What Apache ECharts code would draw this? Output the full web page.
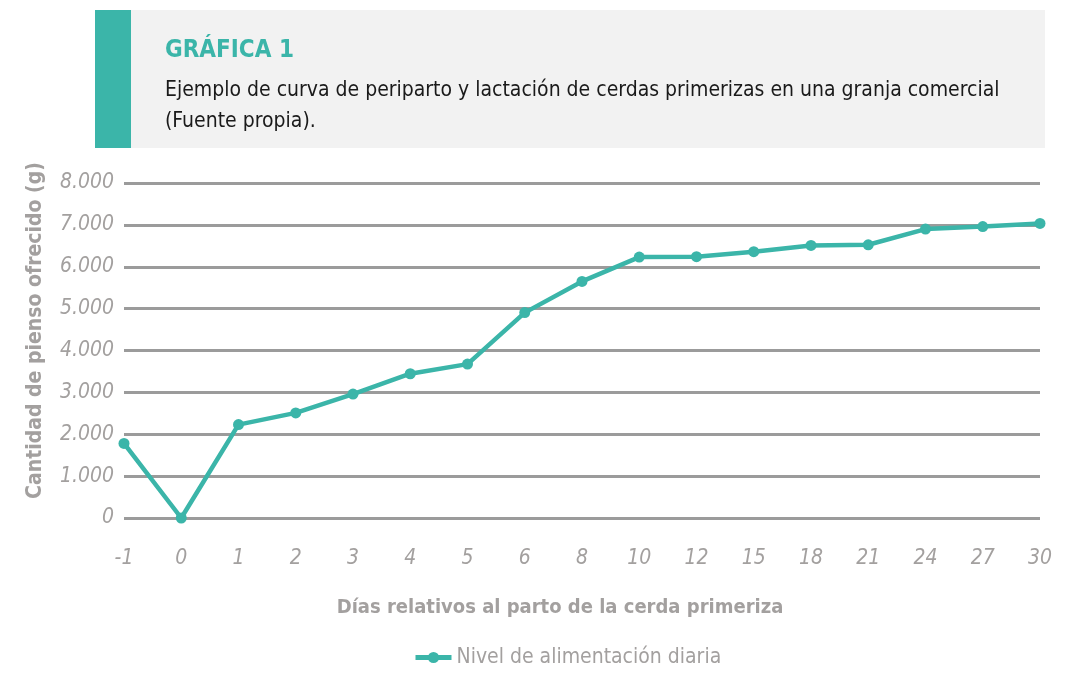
<!DOCTYPE html>
<html>
<head>
<meta charset="utf-8">
<script src="https://cdn.jsdelivr.net/npm/echarts@6/dist/echarts.min.js"></script>
<style>
  html, body { margin: 0; padding: 0; background: #fff; }
  #chart { width: 1066px; height: 674px; }
</style>
</head>
<body>
<div id="chart"></div>
<script>
// datos
let dias = ["-1", "0", "1", "2", "3", "4", "5", "6", "8", "10", "12", "15", "18", "21", "24", "27", "30"];
let nivelDiario = [1780, 0, 2230, 2510, 2960, 3445, 3675, 4905, 5650, 6230, 6240, 6360, 6510, 6525, 6900, 6960, 7035];
let yTicks = [0, 1000, 2000, 3000, 4000, 5000, 6000, 7000, 8000];

// fuente estrecha: se pide el ancho "condensed" dentro del peso
let FONT = '"DejaVu Sans", sans-serif';
let NORMAL = "normal condensed";
let BOLD = "bold condensed";
let TEAL = "#3bb5a9";
let GRIS = "#a3a09f";

let chart = echarts.init(document.getElementById("chart"));

// formato 1.000 con punto de miles
let miles = function(v) {
  return v === 0 ? "0" : String(v).replace(/\B(?=(\d{3})+(?!\d))/g, ".");
};

chart.setOption({
  backgroundColor: "#fff",
  animation: false,
  graphic: [
    { type: "rect", shape: { x: 95, y: 10, width: 950, height: 138 }, style: { fill: "#f2f2f2" } },
    { type: "rect", shape: { x: 95, y: 10, width: 36, height: 138 }, style: { fill: TEAL } }
  ],
  title: [
    {
      text: "GRÁFICA 1",
      left: 160, top: 34,
      textStyle: { color: TEAL, fontFamily: FONT, fontWeight: BOLD, fontSize: 24 }
    },
    {
      text: "Ejemplo de curva de periparto y lactación de cerdas primerizas en una granja comercial\n(Fuente propia).",
      left: 160, top: 70,
      textStyle: { color: "#1a1a1a", fontFamily: FONT, fontWeight: NORMAL, fontSize: 21, lineHeight: 31 }
    }
  ],
  grid: { left: 124, right: 26, top: 183, bottom: 156, containLabel: false },
  legend: {
    bottom: 1, left: 408,
    itemWidth: 36, itemHeight: 14,
    lineStyle: { width: 5 },
    itemStyle: { borderWidth: 0 },
    textStyle: { color: GRIS, fontFamily: FONT, fontWeight: NORMAL, fontSize: 21 },
    data: ["Nivel de alimentación diaria"]
  },
  xAxis: {
    type: "category",
    data: dias,
    boundaryGap: false,
    axisLine: { show: false },
    axisTick: { show: false },
    axisLabel: { color: GRIS, fontFamily: FONT, fontWeight: NORMAL, fontStyle: "italic", fontSize: 21, margin: 30 },
    name: "Días relativos al parto de la cerda primeriza",
    nameLocation: "middle",
    nameGap: 80,
    nameTextStyle: { color: GRIS, fontFamily: FONT, fontWeight: BOLD, fontSize: 20, padding: [0, 44, 0, 0] }
  },
  yAxis: {
    type: "value",
    min: yTicks[0],
    max: yTicks[yTicks.length - 1],
    interval: 1000,
    axisLine: { show: false },
    axisTick: { show: false },
    axisLabel: {
      color: GRIS, fontFamily: FONT, fontWeight: NORMAL, fontStyle: "italic", fontSize: 21, margin: 10,
      formatter: miles
    },
    splitLine: { lineStyle: { color: "#9b9b9b", width: 3 } },
    name: "Cantidad de pienso ofrecido (g)",
    nameLocation: "middle",
    nameGap: 78,
    nameRotate: 90,
    nameTextStyle: { color: GRIS, fontFamily: FONT, fontWeight: BOLD, fontSize: 21, padding: [0, 0, 0, 40] }
  },
  series: [
    {
      name: "Nivel de alimentación diaria",
      type: "line",
      data: nivelDiario,
      symbol: "circle",
      symbolSize: 11,
      lineStyle: { color: TEAL, width: 4.5 },
      itemStyle: { color: TEAL }
    }
  ]
});
</script>
</body>
</html>
